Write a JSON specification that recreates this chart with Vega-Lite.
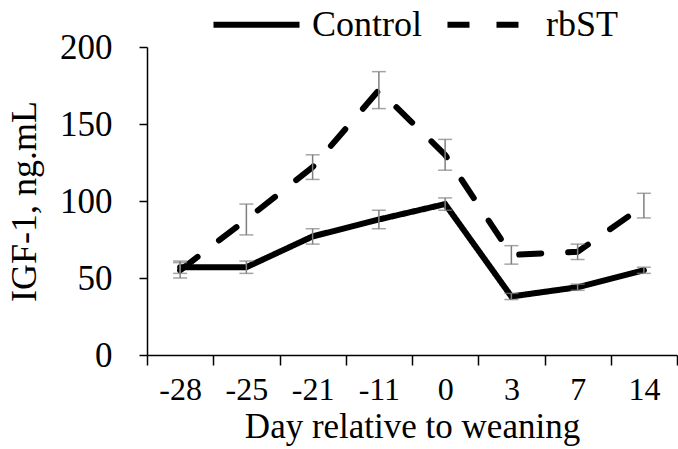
{
  "$schema": "https://vega.github.io/schema/vega-lite/v6.json",
  "width": 530,
  "height": 308,
  "autosize": {"type": "none"},
  "padding": {"left": 147, "top": 47, "right": 1, "bottom": 94},
  "background": "white",
  "config": {
    "view": {"stroke": null},
    "font": "Liberation Serif",
    "axis": {"grid": false, "domainColor": "black", "tickColor": "black", "domainWidth": 1.5, "tickWidth": 1.5, "labelColor": "black", "titleColor": "black", "labelFont": "Liberation Serif", "titleFont": "Liberation Serif", "titleFontWeight": "normal"}
  },
  "data": {
    "values": [
      {"day": "-28", "group": "Control", "igf": 57, "se": 4},
      {"day": "-25", "group": "Control", "igf": 57, "se": 4},
      {"day": "-21", "group": "Control", "igf": 77, "se": 5},
      {"day": "-11", "group": "Control", "igf": 88, "se": 6},
      {"day": "0", "group": "Control", "igf": 98, "se": 4},
      {"day": "3", "group": "Control", "igf": 38, "se": 2},
      {"day": "7", "group": "Control", "igf": 44, "se": 2},
      {"day": "14", "group": "Control", "igf": 55, "se": 2},
      {"day": "-28", "group": "rbST", "igf": 55, "se": 5},
      {"day": "-25", "group": "rbST", "igf": 88, "se": 10},
      {"day": "-21", "group": "rbST", "igf": 122, "se": 8},
      {"day": "-11", "group": "rbST", "igf": 172, "se": 12},
      {"day": "0", "group": "rbST", "igf": 130, "se": 10},
      {"day": "3", "group": "rbST", "igf": 65, "se": 6},
      {"day": "7", "group": "rbST", "igf": 67, "se": 5},
      {"day": "14", "group": "rbST", "igf": 97, "se": 8}
    ]
  },
  "encoding": {
    "x": {
      "field": "day", "type": "ordinal",
      "sort": ["-28", "-25", "-21", "-11", "0", "3", "7", "14"],
      "scale": {"type": "band", "paddingInner": 0, "paddingOuter": 0},
      "axis": {"title": "Day relative to weaning", "labelAngle": 0, "tickBand": "extent", "tickSize": 10, "labelFontSize": 32, "labelPadding": 9, "titleFontSize": 35, "titlePadding": 4}
    },
    "y": {
      "field": "igf", "type": "quantitative",
      "scale": {"domain": [0, 200], "nice": false},
      "axis": {"title": "IGF-1, ng.mL", "values": [0, 50, 100, 150, 200], "tickSize": 8, "labelFontSize": 35, "labelPadding": 27, "titleFontSize": 36, "titlePadding": 16}
    }
  },
  "layer": [
    {
      "mark": {"type": "line", "color": "black", "strokeWidth": 6, "strokeCap": "round", "strokeJoin": "miter"},
      "encoding": {
        "strokeDash": {
          "field": "group", "type": "nominal",
          "scale": {"domain": ["Control", "rbST"], "range": [[1, 0], [22, 27]]},
          "legend": {"orient": "none", "legendX": 63, "legendY": -69, "direction": "horizontal", "title": null, "symbolType": "stroke", "symbolSize": 7400, "symbolStrokeWidth": 6, "symbolStrokeColor": "black", "labelFontSize": 36, "labelColor": "black", "labelFont": "Liberation Serif", "columnPadding": 12, "labelOffset": 9}
        }
      }
    },
    {
      "mark": {"type": "errorbar", "ticks": {"size": 14, "color": "#7f7f7f", "thickness": 1.5}, "rule": {"color": "#7f7f7f", "strokeWidth": 1.5}},
      "encoding": {
        "yError": {"field": "se"},
        "detail": {"field": "group"}
      }
    }
  ]
}
